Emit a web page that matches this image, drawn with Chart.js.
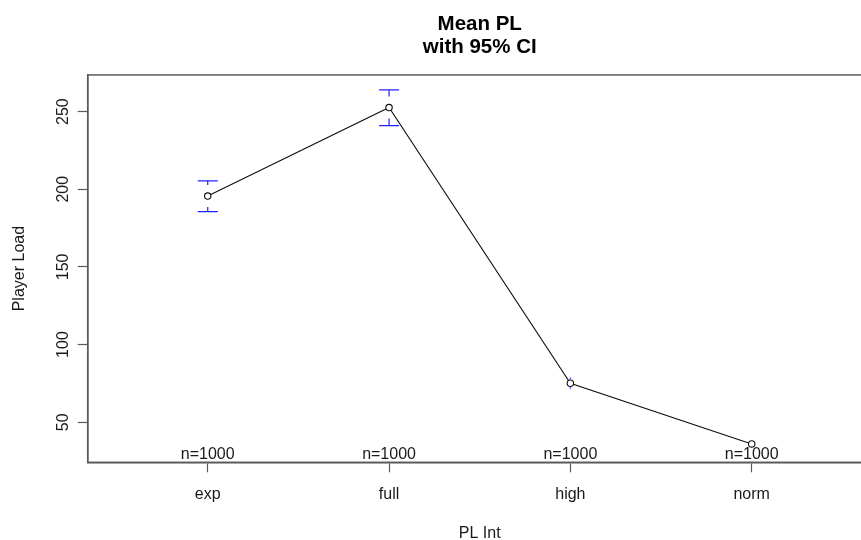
<!DOCTYPE html>
<html>
<head>
<meta charset="utf-8">
<script src="https://cdn.jsdelivr.net/npm/chart.js@4/dist/chart.umd.min.js"></script>
<style>
html,body{margin:0;padding:0;background:#fff;overflow:hidden;width:861px;height:540px;}
canvas{display:block;}
</style>
</head>
<body>
<canvas id="c" width="880" height="540"></canvas>
<script>
// ---- data ----
const categories = ['exp', 'full', 'high', 'norm'];
const means      = [195.6, 252.6, 75.1, 36.0];
const ciLow      = [185.6, 241.0, 71.6, 34.2];
const ciHigh     = [205.4, 264.0, 78.6, 37.8];
const nLabels    = ['n=1000', 'n=1000', 'n=1000', 'n=1000'];
const yTicks     = [50, 100, 150, 200, 250];
const titleLines = ['Mean PL', 'with 95% CI'];
const xTitle = 'PL Int';
const yTitle = 'Player Load';

const FONT = "'Liberation Sans', Arial, sans-serif";
const AXIS_COLOR = '#5a5a5a';
const TEXT_COLOR = '#1a1a1a';

const points = means.map((m, i) => ({x: i + 1, y: m}));

const boxPlugin = {
  id: 'box',
  afterDraw(chart) {
    const {ctx, chartArea: a} = chart;
    ctx.save();
    ctx.strokeStyle = AXIS_COLOR;
    ctx.lineWidth = 1.5;
    ctx.strokeRect(a.left, a.top, a.right - a.left, a.bottom - a.top);
    ctx.restore();
  }
};

const ciPlugin = {
  id: 'ci',
  afterDatasetsDraw(chart) {
    const {ctx} = chart;
    const xs = chart.scales.x, ys = chart.scales.y;
    const gap = 11, half = 10, r = 4;
    ctx.save();
    ctx.strokeStyle = '#2222ff';
    ctx.lineWidth = 1.2;
    for (let i = 0; i < means.length; i++) {
      const x = xs.getPixelForValue(i + 1);
      const ym = ys.getPixelForValue(means[i]);
      const yh = ys.getPixelForValue(ciHigh[i]);
      const yl = ys.getPixelForValue(ciLow[i]);
      ctx.beginPath();
      if (ym - yh > gap) {
        ctx.moveTo(x, yh); ctx.lineTo(x, ym - gap);
        ctx.moveTo(x - half, yh); ctx.lineTo(x + half, yh);
      } else if (ym - yh > r) {
        ctx.moveTo(x, yh); ctx.lineTo(x, ym - r);
      }
      if (yl - ym > gap) {
        ctx.moveTo(x, yl); ctx.lineTo(x, ym + gap);
        ctx.moveTo(x - half, yl); ctx.lineTo(x + half, yl);
      } else if (yl - ym > r) {
        ctx.moveTo(x, yl); ctx.lineTo(x, ym + r);
      }
      ctx.stroke();
    }
    ctx.restore();
  }
};

const nPlugin = {
  id: 'nlab',
  afterDatasetsDraw(chart) {
    const {ctx, chartArea: a} = chart;
    const xs = chart.scales.x;
    ctx.save();
    ctx.font = '16px ' + FONT;
    ctx.fillStyle = TEXT_COLOR;
    ctx.textAlign = 'center';
    ctx.textBaseline = 'alphabetic';
    nLabels.forEach((t, i) => {
      ctx.fillText(t, xs.getPixelForValue(i + 1), a.bottom - 3.3);
    });
    ctx.restore();
  }
};

new Chart(document.getElementById('c'), {
  type: 'line',
  data: {
    datasets: [{
      data: points,
      borderColor: '#111',
      borderWidth: 1.1,
      pointRadius: 3.2,
      pointBorderWidth: 1.1,
      pointBorderColor: '#111',
      pointBackgroundColor: '#fff',
      tension: 0,
      fill: false
    }]
  },
  options: {
    responsive: false,
    animation: false,
    devicePixelRatio: 1,
    layout: {padding: {left: 0, right: 8.3, top: 0, bottom: 0}},
    plugins: {
      legend: {display: false},
      tooltip: {enabled: false},
      title: {
        display: true,
        text: titleLines,
        fullSize: false,
        color: '#000',
        font: {family: FONT, size: 20.5, weight: 'bold', lineHeight: 1.14},
        padding: {top: 12.3, bottom: 15.9}
      }
    },
    scales: {
      x: {
        type: 'linear',
        min: 0.338,
        max: 4.662,
        afterBuildTicks: (s) => { s.ticks = categories.map((c, i) => ({value: i + 1})); },
        afterFit: (s) => { s.height = 540 - 462.3; },
        ticks: {
          autoSkip: false,
          maxRotation: 0,
          minRotation: 0,
          color: TEXT_COLOR,
          font: {family: FONT, size: 16},
          padding: 12.5,
          callback: (v) => categories[v - 1]
        },
        grid: {display: true, drawOnChartArea: false, drawTicks: true, tickLength: 10, tickColor: AXIS_COLOR, tickWidth: 1.2},
        border: {display: true, color: AXIS_COLOR, width: 1.5},
        title: {
          display: true,
          text: xTitle,
          color: TEXT_COLOR,
          font: {family: FONT, size: 16, lineHeight: 0.8},
          padding: {top: 0, bottom: 0}
        }
      },
      y: {
        type: 'linear',
        min: 24.2,
        max: 273.6,
        afterBuildTicks: (s) => { s.ticks = yTicks.map(v => ({value: v})); },
        afterFit: (s) => { s.width = 87.7; },
        ticks: {
          minRotation: 90,
          maxRotation: 90,
          crossAlign: 'center',
          padding: 1,
          color: TEXT_COLOR,
          font: {family: FONT, size: 16},
          callback: (v) => String(v)
        },
        grid: {display: true, drawOnChartArea: false, drawTicks: true, tickLength: 10, tickColor: AXIS_COLOR, tickWidth: 1.2},
        border: {display: true, color: AXIS_COLOR, width: 1.5},
        title: {
          display: true,
          text: yTitle,
          color: TEXT_COLOR,
          font: {family: FONT, size: 16, lineHeight: 1.2},
          padding: {top: 10, bottom: 0}
        }
      }
    }
  },
  plugins: [boxPlugin, ciPlugin, nPlugin]
});
</script>
</body>
</html>
